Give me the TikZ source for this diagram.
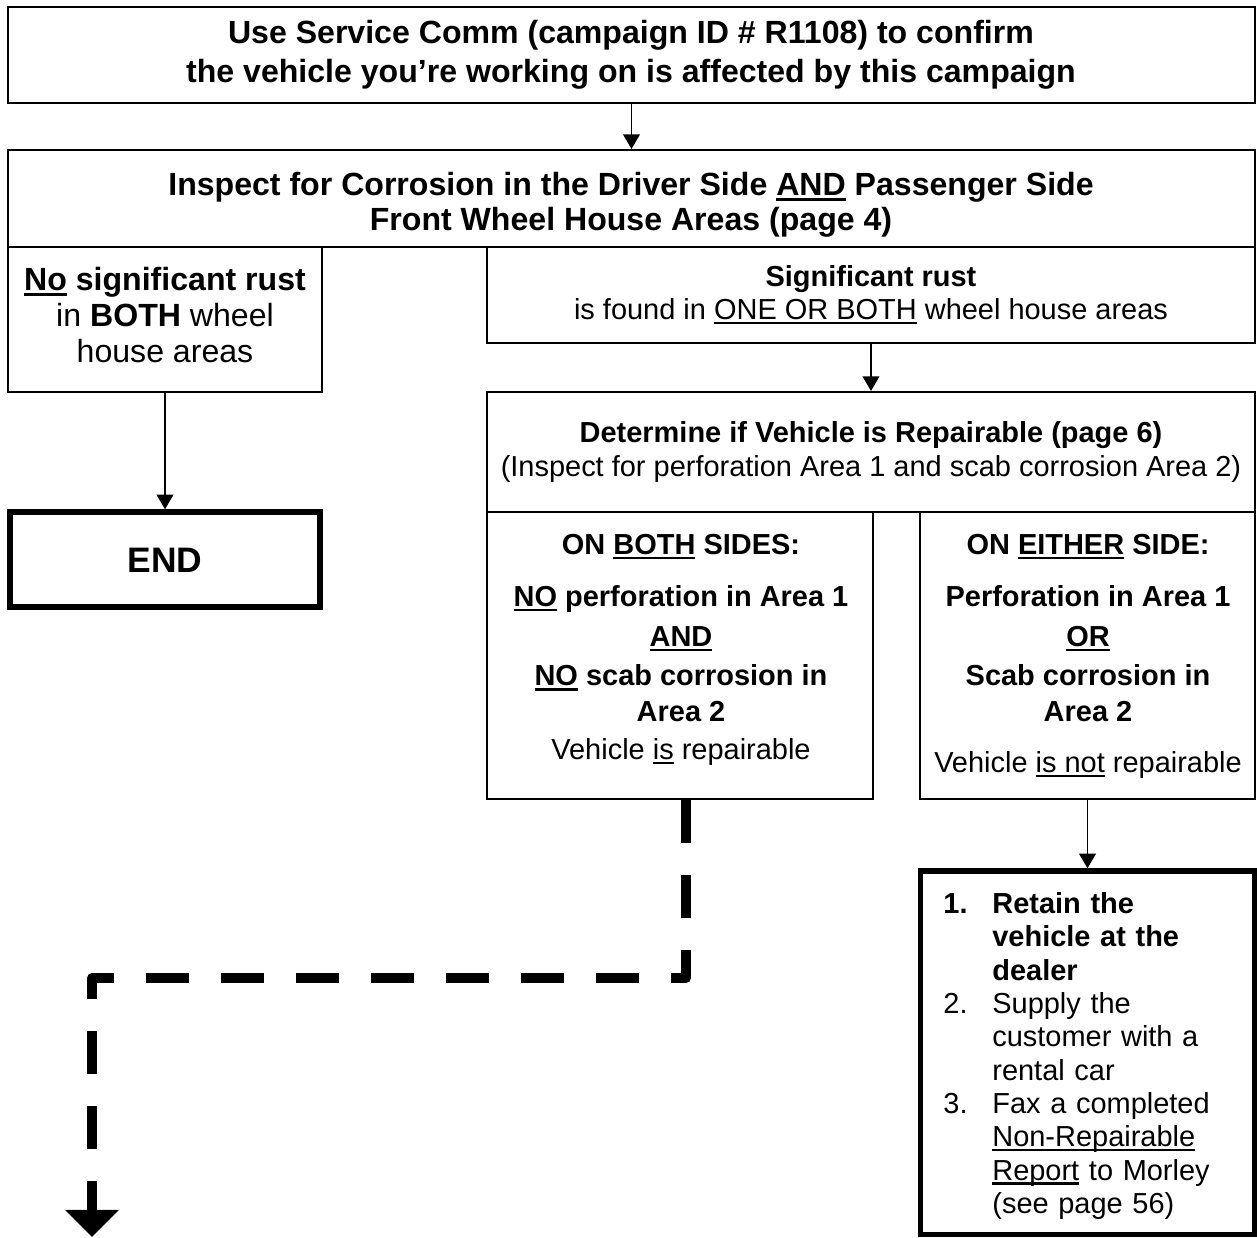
\documentclass[tikz,border=0pt]{standalone}
\usepackage{fontspec}
\setmainfont{Liberation Sans}
\usetikzlibrary{arrows.meta,fit}
\newsavebox\ulbox
\newcommand\undl[1]{\sbox\ulbox{#1}\rlap{\rule[-0.16em]{\wd\ulbox}{0.08em}}\usebox\ulbox}
\begin{document}
\begin{tikzpicture}[x=0.48pt,y=-0.48pt,
  box/.style={draw, line width=1pt, inner sep=0pt},
  thickbox/.style={draw, line width=2.6pt, inner sep=0pt},
  big/.style={font=\fontsize{15.4}{18.5}\selectfont\bfseries, align=center, inner sep=0pt},
  txt/.style={font=\fontsize{13.9}{16}\selectfont, align=center, inner sep=0pt},
  arr/.style={-{Triangle[width=8pt,length=7pt]}, line width=0.8pt},
  thickdash/.style={line width=4.8pt, dash pattern=on 20.6pt off 15.4pt, line join=round,
    -{Triangle[width=25pt,length=13pt]}},
]
\useasboundingbox (0,0) rectangle (1257,1237);

% boxes
\node[box, fit={(8,7) (1255,103)}] (n1) {};
\node[box, fit={(8,150) (1255,247)}] (n2) {};
\node[box, fit={(8,247) (322,392)}] (n3) {};
\node[box, fit={(487,247) (1255,343)}] (n4) {};
\node[box, fit={(487,392) (1255,512)}] (n5) {};
\node[box, fit={(487,512) (873,799)}] (n6) {};
\node[box, fit={(920,512) (1255,799)}] (n7) {};
\node[thickbox, fit={(10,512) (320,607)}] (nend) {};
\node[thickbox, fit={(920.5,871) (1254.5,1234.5)}] (n8) {};

% texts
\node[big] (t1) at (631,55) {Use Service Comm (campaign ID \# R1108) to confirm\\the vehicle you’re working on is affected by this campaign};
\node[big, font=\fontsize{15.4}{16.8}\selectfont\bfseries] (t2) at (631,205) {Inspect for Corrosion in the Driver Side \undl{AND} Passenger Side\\Front Wheel House Areas (page 4)};
\node[big, font=\fontsize{15.4}{17.3}\selectfont] (t3) at (165,315) {\textbf{\undl{No} significant rust}\\in \textbf{BOTH} wheel\\house areas};
\node[txt, font=\fontsize{13.9}{15.8}\selectfont] (t4) at (871,295) {\textbf{Significant rust}\\is found in \undl{ONE OR BOTH} wheel house areas};
\node[txt, font=\fontsize{13.9}{16.3}\selectfont] (t5) at (871,452) {\textbf{Determine if Vehicle is Repairable (page 6)}\\(Inspect for perforation Area 1 and scab corrosion Area 2)};
\node[font=\fontsize{17}{20}\selectfont\bfseries, inner sep=0pt] (tend) at (165,560) {END};

\node[txt, anchor=north] (t6) at (681,534) {\textbf{ON \undl{BOTH} SIDES:}\\[9pt]
\textbf{\undl{NO} perforation in Area 1}\\[3pt]
\textbf{\undl{AND}}\\[3pt]
\textbf{\undl{NO} scab corrosion in}\\[1pt]
\textbf{Area 2}\\[2.5pt]
Vehicle \undl{is} repairable};

\node[txt, anchor=north] (t7) at (1088,534) {\textbf{ON \undl{EITHER} SIDE:}\\[9pt]
\textbf{Perforation in Area 1}\\[3pt]
\textbf{\undl{OR}}\\[3pt]
\textbf{Scab corrosion in}\\[1pt]
\textbf{Area 2}\\[8.5pt]
Vehicle \undl{is not} repairable};

\node[anchor=north west, inner sep=0pt, text width=136pt,
  font=\fontsize{13.9}{16}\selectfont] (t8) at (943,892) {\raggedright\hyphenpenalty=10000\exhyphenpenalty=10000
\hangindent=23.5pt\hangafter=1\noindent\makebox[23.5pt][l]{\textbf{1.}}\textbf{Retain the vehicle at the dealer}\par
\hangindent=23.5pt\hangafter=1\noindent\makebox[23.5pt][l]{2.}Supply the customer with a rental car\par
\hangindent=23.5pt\hangafter=1\noindent\makebox[23.5pt][l]{3.}Fax a completed \undl{Non-Repairable} \undl{Report} to Morley (see page 56)\par};

% connectors
\draw[arr] (n1.south) -- (n2.north);
\draw[arr] (n3.south) -- (nend.north);
\draw[arr] (n4.south) -- (n5.north);
\draw[arr] (n7.south) -- (n8.north);
\coordinate (dend) at (92,1237);
\draw[thickdash] ([xshift=2.9pt]n6.south) -- ++(0,178) -| (dend);
\end{tikzpicture}
\end{document}
